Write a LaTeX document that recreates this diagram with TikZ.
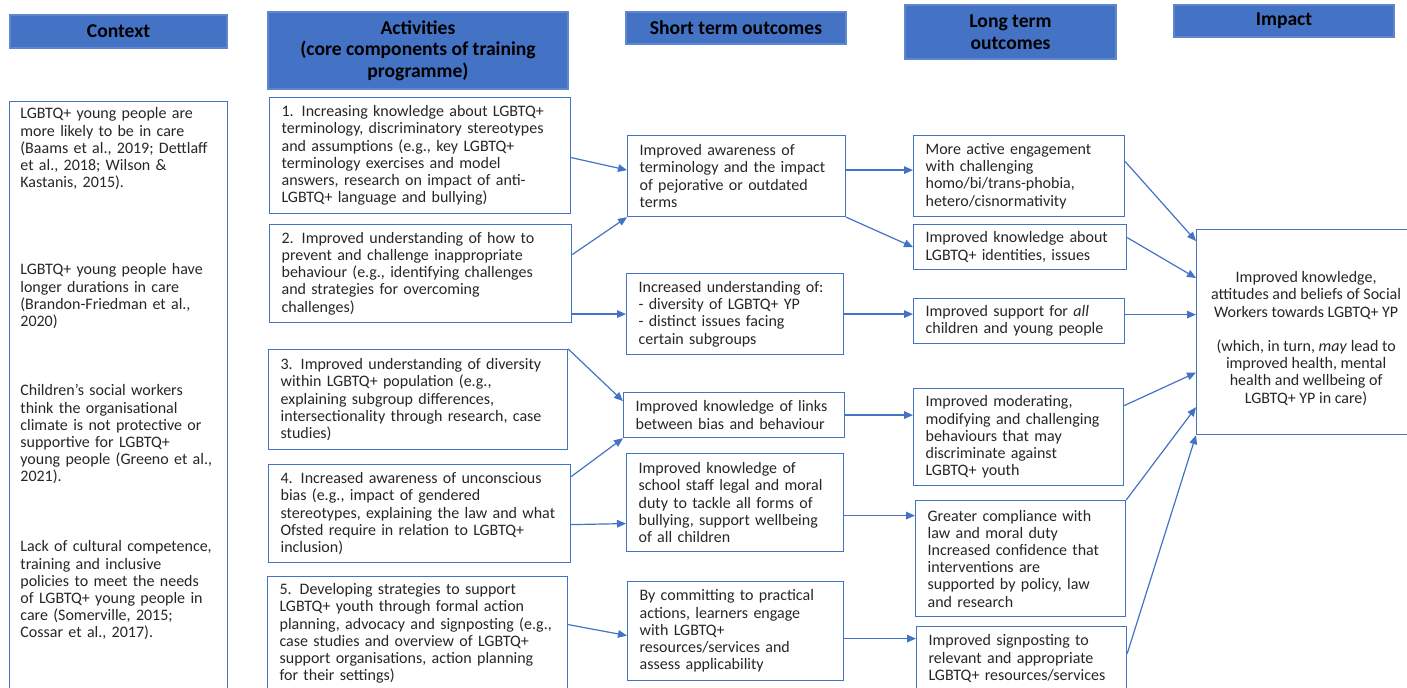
\documentclass[tikz,border=0pt]{standalone}
\usepackage{fontspec}
\setmainfont{Carlito}
\usetikzlibrary{arrows.meta}
\definecolor{hdrblue}{HTML}{4472C4}
\definecolor{txtgray}{HTML}{262626}
\begin{document}
\begin{tikzpicture}[x=0.5pt,y=-0.5pt,
  hdr/.style={fill=hdrblue, draw=hdrblue!85!white, line width=0.6pt, inner sep=0pt, align=center, font=\bfseries\fontsize{9.8pt}{10.8pt}\selectfont, text=black},
  box/.style={draw=hdrblue, line width=0.6pt, anchor=north west, align=left, inner xsep=6pt, inner ysep=0pt, font=\fontsize{8pt}{8.6pt}\selectfont, text=txtgray},
  ctx/.style={anchor=base west, align=left, inner sep=0pt, text width=100pt, font=\fontsize{8pt}{8.6pt}\selectfont, text=txtgray},
  arr/.style={draw=hdrblue, line width=0.6pt, -{Triangle[length=4.5pt,width=3.8pt]}}]
\useasboundingbox (0,0) rectangle (1407,688);

\node [hdr, minimum width=108.5pt, minimum height=16.5pt] (hctx) at (118.5,31.5) {Context};
\node [hdr, minimum width=150pt, minimum height=38.5pt] (hact) at (418,50.5) {Activities\\ (core components of training\\ programme)};
\node [hdr, minimum width=110pt, minimum height=16pt] (hshort) at (736,28) {Short term outcomes};
\node [hdr, minimum width=105.5pt, minimum height=27pt] (hlong) at (1010.5,32) {Long term\\ outcomes};
\node [hdr, minimum width=110pt, minimum height=16pt] (himp) at (1284,21) {Impact};

\node [box, minimum width=109pt, minimum height=297pt] (ctxbox) at (9,101) {};
\node [ctx] (ctx1) at (20,119) {LGBTQ+ young people are\\ more likely to be in care\\ (Baams et al., 2019; Dettlaff\\ et al., 2018; Wilson \&\\ Kastanis, 2015).};
\node [ctx] (ctx2) at (20,275) {LGBTQ+ young people have\\ longer durations in care\\ (Brandon-Friedman et al.,\\ 2020)};
\node [ctx] (ctx3) at (20,396) {Children’s social workers\\ think the organisational\\ climate is not protective or\\ supportive for LGBTQ+\\ young people (Greeno et al.,\\ 2021).};
\node [ctx] (ctx4) at (20,552) {Lack of cultural competence,\\ training and inclusive\\ policies to meet the needs\\ of LGBTQ+ young people in\\ care (Somerville, 2015;\\ Cossar et al., 2017).};

\node [box, text width=138.5pt, minimum height=58pt] (a1) at (269,97) {1. Increasing knowledge about LGBTQ+\\ terminology, discriminatory stereotypes\\ and assumptions (e.g., key LGBTQ+\\ terminology exercises and model\\ answers, research on impact of anti-\\ LGBTQ+ language and bullying)};
\node [box, text width=139pt, minimum height=49pt] (a2) at (269,224) {2. Improved understanding of how to\\ prevent and challenge inappropriate\\ behaviour (e.g., identifying challenges\\ and strategies for overcoming\\ challenges)};
\node [box, text width=137.5pt, minimum height=50pt] (a3) at (268,349) {3. Improved understanding of diversity\\ within LGBTQ+ population (e.g.,\\ explaining subgroup differences,\\ intersectionality through research, case\\ studies)};
\node [box, text width=139pt, minimum height=49pt] (a4) at (268,464) {4. Increased awareness of unconscious\\ bias (e.g., impact of gendered\\ stereotypes, explaining the law and what\\ Ofsted require in relation to LGBTQ+\\ inclusion)};
\node [box, text width=138pt, minimum height=57pt] (a5) at (267,576) {5. Developing strategies to support\\ LGBTQ+ youth through formal action\\ planning, advocacy and signposting (e.g.,\\ case studies and overview of LGBTQ+\\ support organisations, action planning\\ for their settings)};

\node [box, text width=97pt, minimum height=40.5pt] (s1) at (627,135) {Improved awareness of\\ terminology and the impact\\ of pejorative or outdated\\ terms};
\node [box, text width=96.5pt, minimum height=40.5pt] (s2) at (626,273) {Increased understanding of:\\ - diversity of LGBTQ+ YP\\ - distinct issues facing\\ certain subgroups};
\node [box, text width=98.5pt, minimum height=22.5pt] (s3) at (623,392) {Improved knowledge of links\\ between bias and behaviour};
\node [box, text width=96.5pt, minimum height=49pt] (s4) at (626,453) {Improved knowledge of\\ school staff legal and moral\\ duty to tackle all forms of\\ bullying, support wellbeing\\ of all children};
\node [box, text width=96pt, minimum height=49.5pt] (s5) at (627,581) {By committing to practical\\ actions, learners engage\\ with LGBTQ+\\ resources/services and\\ assess applicability};

\node [box, text width=93.5pt, minimum height=40.5pt] (l1) at (913,135) {More active engagement\\ with challenging\\ homo/bi/trans-phobia,\\ hetero/cisnormativity};
\node [box, text width=94.5pt, minimum height=22.5pt] (l2) at (913,224) {Improved knowledge about\\ LGBTQ+ identities, issues};
\node [box, text width=93.5pt, minimum height=22.5pt] (l3) at (913,298) {Improved support for \textit{all}\\ children and young people};
\node [box, text width=93pt, minimum height=48.5pt] (l4) at (913,388) {Improved moderating,\\ modifying and challenging\\ behaviours that may\\ discriminate against\\ LGBTQ+ youth};
\node [box, text width=93pt, minimum height=58pt] (l5) at (915,500) {Greater compliance with\\ law and moral duty\\ Increased confidence that\\ interventions are\\ supported by policy, law\\ and research};
\node [box, text width=93pt, minimum height=32pt] (l6) at (916,626) {Improved signposting to\\ relevant and appropriate\\ LGBTQ+ resources/services};

\node [box, align=center, inner xsep=0pt, minimum width=109.5pt, minimum height=102.5pt] (imp) at (1196,229) {\rule{0pt}{12pt}Improved knowledge,\\ attitudes and beliefs of Social\\ Workers towards LGBTQ+ YP\\[8.6pt] (which, in turn, \textit{may} lead to\\ improved health, mental\\ health and wellbeing of\\ LGBTQ+ YP in care)};

\draw [arr] ([yshift=-1pt]a1.east) -- ([yshift=3pt]s1.west);
\draw [arr] ([yshift=9.5pt]a2.east) -- (s1.south west);
\draw [arr] (a2.east |- s2.west) -- (s2.west);
\draw [arr] (a3.north east) -- ([yshift=7pt]s3.west);
\draw [arr] ([yshift=18.5pt]a4.east) -- (s3.south west);
\draw [arr] ([yshift=-5.5pt]a4.east) -- ([yshift=-10.5pt]s4.west);
\draw [arr] ([yshift=4.5pt]a5.east) -- ([yshift=-2.25pt]s5.west);
\draw [arr] ([yshift=3pt]s1.east) -- ([yshift=3pt]l1.west);
\draw [arr] (s1.south east) -- (l2.west);
\draw [arr] (s2.east) -- (s2.east -| l3.west);
\draw [arr] (s3.east) -- (s3.east -| l4.west);
\draw [arr] ([yshift=-6.5pt]s4.east) -- ([yshift=21.5pt]l5.west);
\draw [arr] ([yshift=-3.75pt]s5.east) -- ([yshift=10pt]l6.west);
\draw [arr] ([yshift=7.25pt]l1.east) -- ([yshift=-6pt]imp.north west);
\draw [arr] ([yshift=4.75pt]l2.east) -- ([yshift=-24.5pt]imp.north west);
\draw [arr] ([yshift=3.25pt]l3.east) -- ([yshift=8.75pt]imp.west);
\draw [arr] ([yshift=15.75pt]l4.east) -- ([yshift=-20.25pt]imp.west);
\draw [arr] (l5.north east) -- ([yshift=14pt]imp.south west);
\draw [arr] ([yshift=2.5pt]l6.east) -- (imp.south west);
\end{tikzpicture}
\end{document}
